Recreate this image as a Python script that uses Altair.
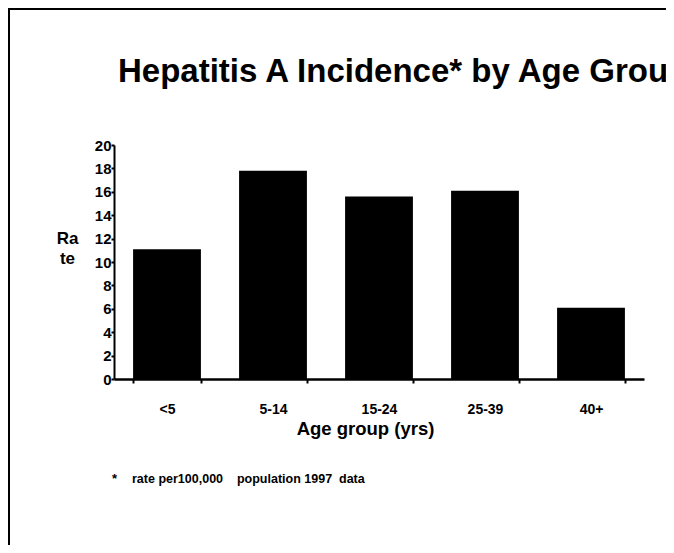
import altair as alt
import pandas as pd

# ---- data ----
age_groups = ["<5", "5-14", "15-24", "25-39", "40+"]
rates = [11.1, 17.8, 15.6, 16.1, 6.1]
y_tick_values = [0, 2, 4, 6, 8, 10, 12, 14, 16, 18, 20]

title_text = "Hepatitis A Incidence* by Age Group"
y_title_lines = ["Ra", "te"]
x_title_text = "Age group (yrs)"
footnote_star = "*"
footnote_text = "rate per100,000\u00a0\u00a0\u00a0\u00a0population 1997\u00a0\u00a0data"

FONT = "Liberation Sans"

df = pd.DataFrame({"age": age_groups, "rate": rates})

bars = alt.Chart(df).mark_bar(color="black").encode(
    x=alt.X(
        "age:N",
        sort=age_groups,
        scale=alt.Scale(paddingInner=0.36, paddingOuter=0.18),
        axis=alt.Axis(
            title=x_title_text,
            titleFontSize=18.5,
            titleFontWeight="bold",
            titleFont=FONT,
            titleColor="black",
            titleAlign="center",
            titleBaseline="alphabetic",
            titleX=251,
            titleY=55,
            labelAngle=0,
            labelFontSize=14,
            labelFontWeight="bold",
            labelFont=FONT,
            labelColor="black",
            labelPadding=19,
            tickBand="extent",
            tickSize=4,
            tickWidth=2,
            tickColor="black",
            domainWidth=2.5,
            domainColor="black",
        ),
    ),
    y=alt.Y(
        "rate:Q",
        scale=alt.Scale(domain=[0, 20], nice=False),
        axis=alt.Axis(
            values=y_tick_values,
            title=y_title_lines,
            titleAngle=0,
            titleAlign="center",
            titleBaseline="alphabetic",
            titleX=-47,
            titleY=98,
            titleFontSize=17,
            titleFontWeight="bold",
            titleFont=FONT,
            titleColor="black",
            titleLineHeight=20,
            labelFontSize=15,
            labelFontWeight="bold",
            labelFont=FONT,
            labelColor="black",
            labelPadding=0,
            tickSize=3,
            tickWidth=2,
            tickColor="black",
            domainWidth=2,
            domainColor="black",
            grid=False,
        ),
    ),
)

one = alt.Data(values=[{}])

frame = alt.Chart(one).mark_rect(filled=False, stroke="black", strokeWidth=2).encode(
    x=alt.value(-105), x2=alt.value(700), y=alt.value(-136), y2=alt.value(403)
)

title = alt.Chart(one).mark_text(
    text=title_text, align="left", baseline="alphabetic",
    fontSize=33, fontWeight="bold", font=FONT, color="black",
).encode(x=alt.value(4), y=alt.value(-63))

star = alt.Chart(one).mark_text(
    text=footnote_star, align="left", baseline="alphabetic",
    fontSize=13, fontWeight="bold", font=FONT, color="black",
).encode(x=alt.value(-2), y=alt.value(338))

note = alt.Chart(one).mark_text(
    text=footnote_text, align="left", baseline="alphabetic",
    fontSize=12.5, fontWeight="bold", font=FONT, color="black",
).encode(x=alt.value(18), y=alt.value(338))

chart = (
    alt.layer(frame, title, bars, star, note)
    .properties(
        width=530,
        height=234,
        padding={"left": 106, "top": 137, "right": 22, "bottom": 166},
        autosize=alt.AutoSizeParams(type="none"),
        background="white",
    )
    .configure_view(stroke=None)
)

chart.save("out.html", embed_options={"renderer": "svg", "actions": False})
